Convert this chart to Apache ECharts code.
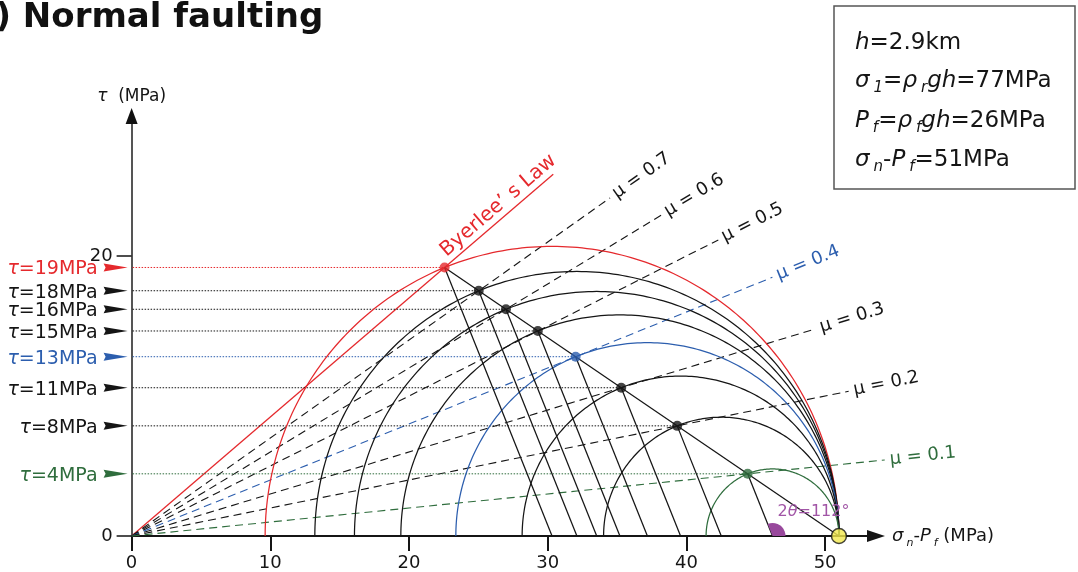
<!DOCTYPE html>
<html>
<head>
<meta charset="utf-8">
<script src="https://cdn.jsdelivr.net/npm/echarts@6/dist/echarts.min.js"></script>
<style>
  html, body { margin: 0; padding: 0; background: #ffffff; }
  #chart { width: 1078px; height: 572px; }
</style>
</head>
<body>
<div id="chart"></div>
<script>
// ---- Data -------------------------------------------------------------
// Friction coefficients of the failure envelopes (Byerlee's law first)
const frictionCoefficients = [0.85, 0.7, 0.6, 0.5, 0.4, 0.3, 0.2, 0.1];
const frictionLabels = ['Byerlee\u2019 s Law', '\u03bc = 0.7', '\u03bc = 0.6', '\u03bc = 0.5',
                        '\u03bc = 0.4', '\u03bc = 0.3', '\u03bc = 0.2', '\u03bc = 0.1'];
// Effective maximum stress shared by all Mohr circles (MPa)
const sigmaOneEffective = 51;
// Angle 2θ between σ1 and the fault-plane point on each circle (degrees)
const twoTheta = 112;
// Axis ticks
const xTicks = [0, 10, 20, 30, 40, 50];
const yTicks = [0, 20];

// ---- Layout -----------------------------------------------------------
// Extent of each envelope along σn-Pf (MPa) before its label
const envelopeReach = [30.4, 34.5, 38.2, 42.3, 46.2, 49.3, 51.7, 54.3];
const byerleeLabelAt = 27.0;
const angleMarkerIndex = 7;           // circle that carries the 2θ marker
const xMax = 53.67, yMax = 29.5;

const FONT = 'DejaVu Sans';
const INK = '#151515';
const markColors = ['#e5292d', INK, INK, INK, '#2c5eae', INK, INK, '#2f6d3d'];

// Mohr circles: each touches σ1-Pf on the right and meets its envelope at 2θ
const rad = twoTheta * Math.PI / 180;
const circles = frictionCoefficients.map(mu => {
  const r = mu * sigmaOneEffective / (Math.sin(rad) + mu * (1 - Math.cos(rad)));
  const c = sigmaOneEffective - r;
  return { mu, r, c, x: c + r * Math.cos(rad), y: r * Math.sin(rad) };
});

const chart = echarts.init(document.getElementById('chart'), null, { renderer: 'canvas' });

const subRich = (size) => ({
  i: { fontStyle: 'italic', fontFamily: FONT, fontSize: size, lineHeight: size + 7 },
  s: { fontStyle: 'italic', fontFamily: FONT, fontSize: Math.round(size * 0.62), lineHeight: 12,
       verticalAlign: 'bottom', padding: [0, 0, 0, 3] }
});

const boxRich = {
  i: { fontStyle: 'italic', fontFamily: FONT, fontSize: 23, lineHeight: 30, fill: INK },
  n: { fontFamily: FONT, fontSize: 23, lineHeight: 30, fill: INK },
  s: { fontStyle: 'italic', fontFamily: FONT, fontSize: 15, lineHeight: 14,
       verticalAlign: 'bottom', padding: [0, 0, 0, 4], fill: INK }
};
const boxLines = [
  '{i|h}{n|=2.9km}',
  '{i|\u03c3}{s|1}{n|=}{i|\u03c1}{s|r}{i|gh}{n|=77MPa}',
  '{i|P}{s|f}{n|=}{i|\u03c1}{s|f}{i|gh}{n|=26MPa}',
  '{i|\u03c3}{s|n}{n|-}{i|P}{s|f}{n|=51MPa}'
];
const boxTops = [28, 66, 106, 145];

const option = {
  animation: false,
  backgroundColor: '#ffffff',
  grid: { left: 131.6, right: 202, top: 123, bottom: 36, containLabel: false, outerBoundsMode: 'none' },
  xAxis: {
    type: 'value', min: 0, max: xMax, interval: 10,
    axisLine: { show: true, onZero: false, lineStyle: { color: INK, width: 2 },
                symbol: ['none', 'triangle'], symbolSize: [12, 18] },
    axisTick: { show: true, length: 15, customValues: xTicks, lineStyle: { color: INK, width: 2 } },
    axisLabel: { customValues: xTicks, fontFamily: FONT, fontSize: 18, color: INK, margin: 18 },
    splitLine: { show: false },
    name: '{i|\u03c3}{s|n}-{i|P}{s|f} (MPa)',
    nameLocation: 'end', nameGap: 16,
    nameTextStyle: { fontFamily: FONT, fontSize: 18, color: INK, lineHeight: 25, rich: subRich(18) }
  },
  yAxis: {
    type: 'value', min: 0, max: yMax, interval: 20,
    axisLine: { show: true, onZero: false, lineStyle: { color: '#555555', width: 2 } },
    axisTick: { show: true, length: 15, customValues: yTicks, lineStyle: { color: INK, width: 1.5 } },
    axisLabel: { customValues: yTicks, fontFamily: FONT, fontSize: 18, color: INK, margin: 19 },
    splitLine: { show: false },
    name: '{i|\u03c4}  (MPa)',
    nameLocation: 'end', nameGap: 14,
    nameTextStyle: { fontFamily: FONT, fontSize: 17, color: INK, rich: subRich(17) }
  },
  graphic: {
    elements: [
      { type: 'text', x: -43, y: 18,
        style: { text: '(a) Normal faulting', fontFamily: FONT, fontWeight: 'bold', fontSize: 34,
                 fill: '#111111', verticalAlign: 'middle' } },
      { type: 'rect', shape: { x: 834, y: 6, width: 241, height: 183 },
        style: { fill: '#ffffff', stroke: '#555555', lineWidth: 1.5 } }
    ].concat(boxLines.map((t, k) => ({
      type: 'text', x: 855, y: boxTops[k],
      style: { text: t, rich: boxRich, fontFamily: FONT, fontSize: 23, fill: INK, verticalAlign: 'top' }
    })))
  },
  series: [
    // Failure envelopes through the origin, with their labels
    {
      type: 'custom', name: 'envelopes', clip: false, z: 2,
      data: frictionCoefficients.map((mu, i) => [mu, envelopeReach[i]]),
      renderItem(params, api) {
        const i = params.dataIndex;
        const mu = api.value(0), reach = api.value(1);
        const p0 = api.coord([0, 0]);
        const p1 = api.coord([reach, mu * reach]);
        const dx = p1[0] - p0[0], dy = p1[1] - p0[1];
        const len = Math.hypot(dx, dy), ux = dx / len, uy = dy / len;
        const rot = Math.atan2(-dy, dx);
        const color = markColors[i];
        const children = [{
          type: 'line', shape: { x1: p0[0], y1: p0[1], x2: p1[0], y2: p1[1] },
          style: { stroke: color, lineWidth: i === 0 ? 1.3 : 1.1, lineDash: i === 0 ? null : [8, 5] }
        }];
        if (i === 0) {
          const a = api.coord([byerleeLabelAt, mu * byerleeLabelAt]);
          children.push({
            type: 'text', x: a[0] + uy * 2, y: a[1] - ux * 2, rotation: rot,
            style: { text: frictionLabels[i], fill: color, fontFamily: FONT, fontSize: 20,
                     align: 'center', verticalAlign: 'bottom' }
          });
        } else {
          children.push({
            type: 'text', x: p1[0] + ux * 5, y: p1[1] + uy * 5, rotation: rot,
            style: { text: frictionLabels[i], fill: color, fontFamily: FONT, fontSize: 18,
                     align: 'left', verticalAlign: 'middle' }
          });
        }
        return { type: 'group', children };
      }
    },
    // Shear-stress guides, arrows and labels on the τ axis
    {
      type: 'custom', name: 'shear stress', clip: false, z: 3,
      data: circles.map(c => [c.x, c.y]),
      renderItem(params, api) {
        const i = params.dataIndex;
        const tau = api.value(1);
        const a = api.coord([0, tau]);
        const b = api.coord([api.value(0), tau]);
        const color = markColors[i];
        return {
          type: 'group', children: [
            { type: 'line', shape: { x1: a[0] + 1, y1: a[1], x2: b[0], y2: b[1] },
              style: { stroke: color, lineWidth: 1, lineDash: [1.5, 1.5] } },
            { type: 'polygon',
              shape: { points: [[a[0] - 4, a[1]], [a[0] - 28, a[1] - 4], [a[0] - 26, a[1]], [a[0] - 28, a[1] + 4]] },
              style: { fill: color } },
            { type: 'text', x: a[0] - 34, y: a[1] + 2,
              style: { text: '{t|\u03c4}=' + Math.round(tau) + 'MPa', fill: color, fontFamily: FONT, fontSize: 19,
                       align: 'right', verticalAlign: 'middle',
                       rich: { t: { fontStyle: 'italic', fontFamily: FONT, fontSize: 19, fill: color } } } }
          ]
        };
      }
    },
    // Mohr circles
    {
      type: 'custom', name: 'Mohr circles', clip: false, z: 4,
      data: circles.map(c => [c.c, c.r]),
      renderItem(params, api) {
        const cx = api.value(0), r = api.value(1);
        const pts = [];
        for (let k = 0; k <= 180; k += 1) {
          const t = k * Math.PI / 180;
          pts.push(api.coord([cx + r * Math.cos(t), r * Math.sin(t)]));
        }
        return { type: 'polyline', shape: { points: pts },
                 style: { stroke: markColors[params.dataIndex], lineWidth: 1.25, fill: 'none' } };
      }
    },
    // Radii from the fault-plane points to the circle centres
    {
      type: 'custom', name: 'radii', clip: false, z: 5,
      data: circles.map(c => [c.x, c.y, c.c]),
      renderItem(params, api) {
        const p = api.coord([api.value(0), api.value(1)]);
        const q = api.coord([api.value(2), 0]);
        return { type: 'line', shape: { x1: p[0], y1: p[1], x2: q[0], y2: q[1] },
                 style: { stroke: INK, lineWidth: 1.25 } };
      }
    },
    // Locus of fault-plane points, from σ1-Pf up to Byerlee's envelope
    {
      type: 'line', name: 'locus', z: 5, symbol: 'none', clip: false,
      data: [[sigmaOneEffective, 0], [circles[0].x, circles[0].y]],
      lineStyle: { color: INK, width: 1.25 }
    },
    // 2θ marker
    {
      type: 'custom', name: '2theta', clip: false, z: 6,
      data: [[circles[angleMarkerIndex].c, 0]],
      renderItem(params, api) {
        const p = api.coord([api.value(0), 0]);
        return {
          type: 'group', children: [
            { type: 'sector', shape: { cx: p[0], cy: p[1], r0: 0, r: 13, startAngle: -rad, endAngle: 0, clockwise: true },
              style: { fill: '#98489c' } },
            { type: 'text', x: p[0] + 5, y: p[1] - 24,
              style: { text: '2{t|\u03b8}=' + twoTheta + '\u00b0', fill: '#a155a6', fontFamily: FONT, fontSize: 16,
                       align: 'left', verticalAlign: 'middle',
                       rich: { t: { fontStyle: 'italic', fontFamily: FONT, fontSize: 16, fill: '#a155a6' } } } }
          ]
        };
      }
    },
    // Fault-plane points
    {
      type: 'scatter', name: 'points', z: 7, symbolSize: 10, clip: false,
      data: circles.map((c, i) => ({ value: [c.x, c.y], itemStyle: { color: markColors[i] } }))
    },
    // σ1-Pf point
    {
      type: 'scatter', name: 'sigma1', z: 8, symbolSize: 15, clip: false,
      data: [[sigmaOneEffective, 0]],
      itemStyle: { color: '#f2e94e', borderColor: INK, borderWidth: 1.5 }
    },
    // Arrowhead of the τ axis
    {
      type: 'custom', name: 'tau arrow', clip: false, z: 8,
      data: [[0, yMax]],
      renderItem(params, api) {
        const p = api.coord([0, api.value(1)]);
        return { type: 'polygon', shape: { points: [[p[0], p[1] - 15], [p[0] - 6, p[1] + 1], [p[0] + 6, p[1] + 1]] },
                 style: { fill: '#111111' } };
      }
    }
  ]
};

chart.setOption(option);
</script>
</body>
</html>
